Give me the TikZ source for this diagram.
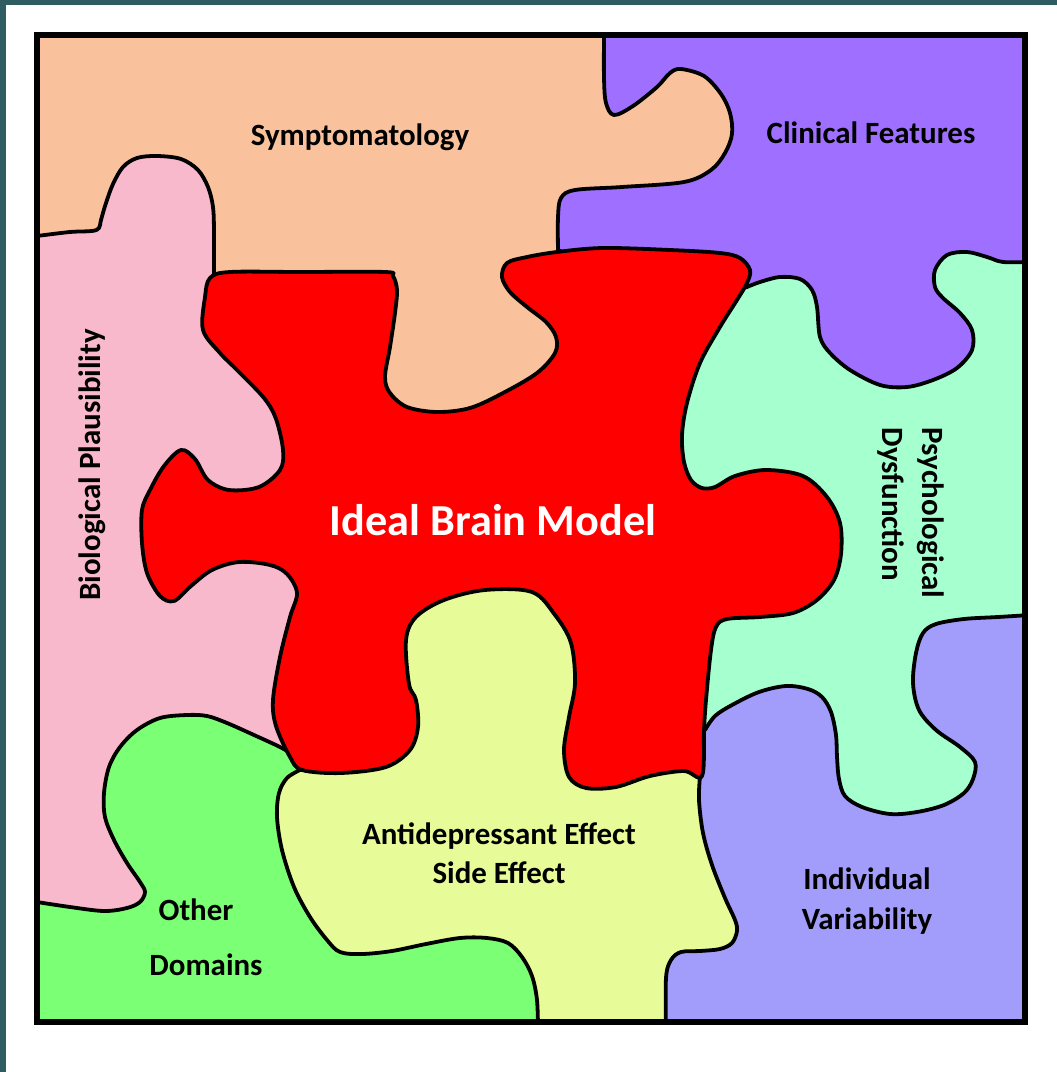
\documentclass[tikz,border=0pt]{standalone}
\usepackage{fontspec}
\setmainfont{Carlito}
\definecolor{tealbg}{HTML}{2E5C61}
\definecolor{peach}{HTML}{FAC29C}
\definecolor{purp}{HTML}{9F6FFF}
\definecolor{pinkp}{HTML}{F9B9CD}
\definecolor{mint}{HTML}{A5FFCF}
\definecolor{lav}{HTML}{A29CFB}
\definecolor{yel}{HTML}{E8FB99}
\definecolor{grn}{HTML}{7BFF74}
\definecolor{redp}{HTML}{FF0000}
\begin{document}
\begin{tikzpicture}[x=0.025cm,y=-0.025cm,
  piece/.style={draw=black,line width=2.7pt,line join=round},
  lbl/.style={font=\fontsize{22}{28}\selectfont\bfseries,text=black,inner sep=0pt,align=center},
  mainlbl/.style={font=\fontsize{31.5}{36}\selectfont\bfseries,text=white,inner sep=0pt}]
\useasboundingbox (0,0) rectangle (1057,1072);
\fill[tealbg] (0,0) rectangle (1057,1072);
\fill[white] (6,5) rectangle (1057,1072);
\begin{scope}
\clip (37,35) rectangle (1025,1022);
% peach background (Symptomatology)
\fill[peach] (37,35) rectangle (1025,1022);
% purple (Clinical Features)
\filldraw[piece,fill=purp] (604,30) -- plot[smooth,tension=0.55] coordinates {(604,37) (604,78) (606,103) (614,115) (633,106) (657,87) (670,73) (681,69) (704,76) (721,94) (730,113) (732,134) (725,153) (711,170) (684,182) (622,187) (575,190) (561,198) (558,217) (558,250)} -- (600,270) -- (600,450) -- (1030,450) -- (1030,30) -- cycle;
% pink (Biological Plausibility)
\filldraw[piece,fill=pinkp] (30,236) -- plot[smooth,tension=0.55] coordinates {(37,236) (70,232) (92,231) (99,228) (101,220) (106,203) (113,184) (123,167) (137,158) (157,156) (181,159) (198,170) (208,187) (213,207) (214,233) (214,280)} -- (330,300) -- (330,760) -- (250,800) -- (180,950) -- (30,980) -- cycle;
% green (Other Domains)
\filldraw[piece,fill=grn] (30,902) -- plot[smooth,tension=0.55] coordinates {(37,902) (70,907) (104,911) (127,908) (140,902) (145,892) (140,882) (127,863) (114,840) (105,817) (104,793) (109,767) (120,747) (137,730) (160,718) (187,715) (207,716) (227,723) (254,735) (280,747) (292,754)} -- (320,770) -- (450,850) -- (600,1030) -- (30,1030) -- cycle;
% lavender (Individual Variability)
\fill[lav] (690,600) -- (1030,600) -- (1030,1030) -- (600,1030) -- (600,790) -- cycle;
% mint (Psychological Dysfunction)
\filldraw[piece,fill=mint] (650,310) -- plot[smooth,tension=0.55] coordinates {(747,287) (760,282) (780,277) (800,279) (812,290) (817,307) (820,337) (830,353) (850,370) (880,385) (907,387) (933,380) (957,368) (972,350) (972,330) (960,313) (943,298) (935,287) (935,270) (947,255) (967,252) (987,257) (1003,262) (1030,262)} -- plot[smooth,tension=0.55] coordinates {(1030,615) (998,617) (964,619) (936,624) (923,633) (916,653) (913,683) (919,710) (936,730) (960,747) (975,762) (973,779) (964,793) (944,805) (917,812) (890,814) (862,807) (845,796) (839,779) (837,757) (836,735) (831,712) (822,697) (808,689) (786,686) (759,692) (732,705) (715,716) (705,730)} -- (650,700) -- cycle;
% yellow (Antidepressant Effect)
\filldraw[piece,fill=yel] (320,560) -- (320,765) -- plot[smooth,tension=0.55] coordinates {(300,770) (287,778) (279,793) (277,817) (282,850) (294,887) (310,917) (327,940) (340,952) (362,954) (392,951) (426,944) (460,938) (487,938) (508,943) (522,957) (532,976) (537,1000) (538,1030)} -- (666,1030) -- plot[smooth,tension=0.55] coordinates {(666,1030) (666,978) (671,960) (681,952) (700,951) (720,949) (732,943) (737,931) (735,920) (725,898) (712,865) (703,833) (699,800) (700,776)} -- (690,560) -- cycle;
% red (Ideal Brain Model)
\filldraw[piece,fill=redp] plot[smooth cycle,tension=0.55] coordinates {(210,278) (230,272) (300,272) (385,272) (393,276) (397,290) (395,313) (390,347) (385,377) (390,393) (407,407) (437,412) (470,408) (503,393) (537,373) (555,353) (556,337) (546,322) (527,307) (510,292) (502,277) (507,263) (527,257) (557,252) (603,248) (670,250) (720,253) (740,258) (750,270) (747,283) (737,300) (720,327) (700,363) (687,403) (682,435) (684,462) (691,480) (702,488) (715,487) (735,476) (766,470) (803,476) (827,497) (840,523) (841,554) (834,580) (817,600) (793,613) (760,617) (727,619) (716,627) (711,650) (706,700) (704,730) (702,776) (684,771) (650,776) (616,787) (586,788) (569,777) (564,750) (569,717) (575,683) (571,643) (555,615) (532,592) (485,590) (444,600) (416,617) (406,640) (409,684) (416,700) (418,727) (410,750) (386,767) (341,773) (302,770) (290,757) (276,726) (273,700) (280,657) (290,617) (297,593) (287,574) (270,565) (239,562) (212,570) (191,586) (174,601) (160,596) (147,573) (142,543) (142,510) (150,490) (164,466) (181,450) (195,459) (208,480) (229,490) (259,487) (280,470) (283,450) (276,419) (264,398) (237,370) (220,353) (203,330) (205,297)};
\end{scope}
\draw[line width=3.6pt] (37,35) rectangle (1025,1022);
% labels
\node[lbl] (sym) at (360,137) {Symptomatology};
\node[lbl] (clin) at (871,133) {Clinical Features};
\node[lbl,rotate=90] (bio) at (92,465) {Biological Plausibility};
\node[lbl,rotate=-90,align=left] (psy) at (911,513) {Psychological\\Dysfunction};
\node[mainlbl] (ideal) at (493,520) {Ideal Brain Model};
\node[lbl] (anti) at (499,853) {Antidepressant Effect\\Side Effect};
\node[lbl] (indiv) at (867,901) {Individual\\Variability};
\node[lbl] (oth1) at (196,910) {Other};
\node[lbl] (oth2) at (206,965) {Domains};
\end{tikzpicture}
\end{document}
